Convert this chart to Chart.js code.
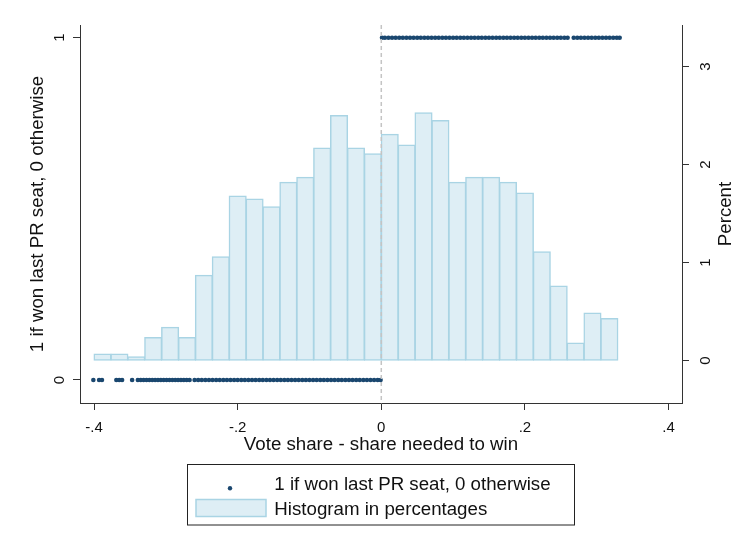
<!DOCTYPE html>
<html>
<head>
<meta charset="utf-8">
<script src="https://cdn.jsdelivr.net/npm/chart.js@4"></script>
<style>
  html, body { margin: 0; padding: 0; background: #ffffff; }
  #wrap { width: 751px; height: 550px; }
</style>
</head>
<body>
<div id="wrap"><canvas id="c" width="751" height="550"></canvas></div>
<script>
// ---- data ----
const seriesLabels = ["1 if won last PR seat, 0 otherwise", "Histogram in percentages"];
const xTitle = "Vote share - share needed to win";
const yLeftTitle = "1 if won last PR seat, 0 otherwise";
const yRightTitle = "Percent";

const xTicks = [-0.4, -0.2, 0, 0.2, 0.4];
const xTickLabels = ["-.4", "-.2", "0", ".2", ".4"];
const yLeftTicks = [0, 1];
const yLeftTickLabels = ["0", "1"];
const yRightTicks = [0, 1, 2, 3];
const yRightTickLabels = ["0", "1", "2", "3"];

// histogram bin centres (bin width 0.4/17) and percentages
const binCenters = [-0.38824, -0.36471, -0.34118, -0.31765, -0.29412, -0.27059, -0.24706, -0.22353,
  -0.2, -0.17647, -0.15294, -0.12941, -0.10588, -0.08235, -0.05882, -0.03529, -0.01176,
  0.01176, 0.03529, 0.05882, 0.08235, 0.10588, 0.12941, 0.15294, 0.17647, 0.2,
  0.22353, 0.24706, 0.27059, 0.29412, 0.31765];
const binPercent = [0.068, 0.068, 0.040, 0.235, 0.34, 0.235, 0.87, 1.06, 1.68, 1.65, 1.57, 1.82, 1.87,
  2.17, 2.50, 2.17, 2.11, 2.31, 2.20, 2.53, 2.45, 1.82, 1.87, 1.87, 1.82, 1.71, 1.11, 0.76, 0.18, 0.485, 0.43];

// observations that did not win (y = 0)
const lostX = [-0.401, -0.393, -0.389, -0.369, -0.365, -0.361, -0.347, -0.339, -0.335, -0.331, -0.327,
  -0.323, -0.319, -0.315, -0.311, -0.307, -0.303, -0.299, -0.295, -0.291, -0.287, -0.283, -0.279,
  -0.275, -0.271, -0.267, -0.260, -0.255, -0.250, -0.245, -0.240, -0.235, -0.230, -0.225, -0.220,
  -0.215, -0.210, -0.205, -0.200, -0.195, -0.190, -0.185, -0.180, -0.175, -0.170, -0.165, -0.160,
  -0.155, -0.150, -0.145, -0.140, -0.135, -0.130, -0.125, -0.120, -0.115, -0.110, -0.105, -0.100,
  -0.095, -0.090, -0.085, -0.080, -0.075, -0.070, -0.065, -0.060, -0.055, -0.050, -0.045, -0.040,
  -0.035, -0.030, -0.025, -0.020, -0.015, -0.010, -0.005, -0.001];
// observations that won (y = 1)
const wonX = [0.001, 0.005, 0.010, 0.015, 0.020, 0.025, 0.030, 0.035, 0.040, 0.045, 0.050, 0.055,
  0.060, 0.065, 0.070, 0.075, 0.080, 0.085, 0.090, 0.095, 0.100, 0.105, 0.110, 0.115, 0.120, 0.125,
  0.130, 0.135, 0.140, 0.145, 0.150, 0.155, 0.160, 0.165, 0.170, 0.175, 0.180, 0.185, 0.190, 0.195,
  0.200, 0.205, 0.210, 0.215, 0.220, 0.225, 0.230, 0.235, 0.240, 0.245, 0.250, 0.255, 0.2595,
  0.268, 0.273, 0.278, 0.283, 0.288, 0.293, 0.298, 0.303, 0.308, 0.313, 0.318, 0.323, 0.328, 0.332];

// ---- styles ----
const FONT = "'Liberation Sans', Arial, sans-serif";
const dotColor = "#1a476f";
const barFill = "#deeef5";
const barEdge = "#a9d4e4";
const axisColor = "#333333";
const textColor = "#111111";

const scatterPoints = lostX.map(x => ({ x: x, y: 0 })).concat(wonX.map(x => ({ x: x, y: 1 })));
const barPoints = binCenters.map((c, i) => ({ x: c, y: binPercent[i] }));

function rotText(ctx, txt, x, y, size) {
  ctx.save();
  ctx.translate(x, y);
  ctx.rotate(-Math.PI / 2);
  ctx.font = size + "px " + FONT;
  ctx.textAlign = "center";
  ctx.textBaseline = "alphabetic";
  ctx.fillText(txt, 0, 0);
  ctx.restore();
}

const overlay = {
  id: "overlay",
  afterDatasetsDraw(chart) {
    const ctx = chart.ctx;
    const xs = chart.scales.x;
    const a = chart.chartArea;
    const px = xs.getPixelForValue(0);
    ctx.save();
    ctx.strokeStyle = "#c4c4c4";
    ctx.lineWidth = 1.5;
    ctx.setLineDash([4, 3]);
    ctx.beginPath();
    ctx.moveTo(px, a.top);
    ctx.lineTo(px, a.bottom);
    ctx.stroke();
    ctx.restore();
  },
  afterDraw(chart) {
    const ctx = chart.ctx;
    const xs = chart.scales.x, yl = chart.scales.y, yr = chart.scales.y2;
    const a = chart.chartArea;
    ctx.save();
    ctx.fillStyle = textColor;
    // x tick labels
    ctx.font = "15px " + FONT;
    ctx.textAlign = "center";
    ctx.textBaseline = "alphabetic";
    xTicks.forEach((v, i) => ctx.fillText(xTickLabels[i], xs.getPixelForValue(v), 431.5));
    // x title
    ctx.font = "18.7px " + FONT;
    ctx.fillText(xTitle, (a.left + a.right) / 2, 450);
    // y tick labels (rotated)
    yLeftTicks.forEach((v, i) => rotText(ctx, yLeftTickLabels[i], 63.5, yl.getPixelForValue(v), 15));
    yRightTicks.forEach((v, i) => rotText(ctx, yRightTickLabels[i], 710, yr.getPixelForValue(v), 15));
    // y titles
    rotText(ctx, yLeftTitle, 43.3, (a.top + a.bottom) / 2, 18.7);
    rotText(ctx, yRightTitle, 730.5, (a.top + a.bottom) / 2, 18.7);

    // legend
    const ds = chart.data.datasets;
    ctx.strokeStyle = "#222222";
    ctx.lineWidth = 1;
    ctx.strokeRect(187.5, 464.5, 387, 60.5);
    ctx.fillStyle = ds[0].backgroundColor;
    ctx.beginPath();
    ctx.arc(230, 488.3, 2.2, 0, Math.PI * 2);
    ctx.fill();
    ctx.fillStyle = ds[1].backgroundColor;
    ctx.fillRect(196, 499.5, 70, 17);
    ctx.strokeStyle = ds[1].borderColor;
    ctx.lineWidth = 1.5;
    ctx.strokeRect(196, 499.5, 70, 17);
    ctx.fillStyle = textColor;
    ctx.font = "18.7px " + FONT;
    ctx.textAlign = "left";
    ctx.textBaseline = "alphabetic";
    ctx.fillText(ds[0].label, 274.3, 490);
    ctx.fillText(ds[1].label, 274.3, 514.5);
    ctx.restore();
  }
};

const gridOpts = { display: true, drawOnChartArea: false, drawTicks: true, tickLength: 7, color: axisColor, lineWidth: 1, offset: false };
const borderOpts = { display: true, color: axisColor, width: 1 };

new Chart(document.getElementById("c"), {
  data: {
    datasets: [
      {
        type: "scatter", label: seriesLabels[0], data: scatterPoints,
        xAxisID: "x", yAxisID: "y",
        pointRadius: 2.3, pointHoverRadius: 2.3, borderWidth: 0,
        backgroundColor: dotColor, borderColor: dotColor
      },
      {
        type: "bar", label: seriesLabels[1], data: barPoints,
        xAxisID: "x", yAxisID: "y2",
        backgroundColor: barFill, borderColor: barEdge, borderWidth: 1.5,
        borderSkipped: false, barPercentage: 1, categoryPercentage: 1, inflateAmount: 0.6
      }
    ]
  },
  options: {
    responsive: false,
    devicePixelRatio: 1,
    animation: false,
    events: [],
    layout: { padding: { left: 0, right: 0, top: 25, bottom: 0 } },
    plugins: { legend: { display: false }, tooltip: { enabled: false } },
    scales: {
      x: {
        type: "linear", position: "bottom", min: -0.4196, max: 0.4188, offset: false,
        afterBuildTicks: s => { s.ticks = xTicks.map(v => ({ value: v })); },
        ticks: { display: false },
        grid: gridOpts, border: borderOpts,
        afterFit: s => { s.height = 147; }
      },
      y: {
        type: "linear", position: "left", min: -0.0672, max: 1.0371,
        afterBuildTicks: s => { s.ticks = yLeftTicks.map(v => ({ value: v })); },
        ticks: { display: false },
        grid: gridOpts, border: borderOpts,
        afterFit: s => { s.width = 80; }
      },
      y2: {
        type: "linear", position: "right", min: -0.4316, max: 3.4255,
        afterBuildTicks: s => { s.ticks = yRightTicks.map(v => ({ value: v })); },
        ticks: { display: false },
        grid: gridOpts, border: borderOpts,
        afterFit: s => { s.width = 69; }
      }
    }
  },
  plugins: [overlay]
});
</script>
</body>
</html>
